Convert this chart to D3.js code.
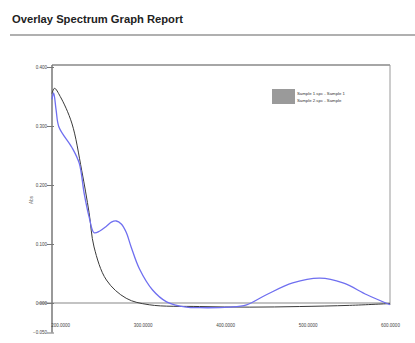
<!DOCTYPE html>
<html><head><meta charset="utf-8">
<script src="https://cdn.jsdelivr.net/npm/d3@7"></script>
<style>body{margin:0;background:#fff}svg{display:block}</style>
</head><body>
<script>
const title = "Overlay Spectrum Graph Report";
const xTicks = [200, 300, 400, 500, 600];
const yTicks = [-0.05, 0, 0.1, 0.2, 0.3, 0.4];
const seriesNames = ["Sample 1.spc - Sample 1", "Sample 2.spc - Sample"];
const blackX = [190, 193, 200, 214, 226, 235, 241, 256, 280, 308, 369, 430, 490, 551, 600];
const blackY = [0.355, 0.364, 0.350, 0.305, 0.225, 0.153, 0.095, 0.039, 0.008, -0.003, -0.006, -0.007, -0.006, -0.004, -0.001];
const blueX = [190, 192, 195, 198.5, 214, 223, 229, 235, 241, 248, 256, 262, 268, 274, 280, 286, 296, 312, 329, 353, 369, 405, 426, 450, 482, 515, 543, 572, 600];
const blueY = [0.345, 0.356, 0.327, 0.298, 0.264, 0.237, 0.186, 0.146, 0.119, 0.122, 0.130, 0.137, 0.139, 0.134, 0.120, 0.095, 0.058, 0.022, 0.002, -0.007, -0.008, -0.007, -0.003, 0.014, 0.034, 0.042, 0.034, 0.014, -0.003];

const W = 415, H = 343;
const svg = d3.select("body").append("svg").attr("width", W).attr("height", H);

svg.append("text").attr("x", 12).attr("y", 23).text(title)
  .attr("font-family", "Liberation Sans, Arial, sans-serif").attr("font-weight", "bold")
  .attr("font-size", 11.2).attr("fill", "#222");
svg.append("line").attr("x1", 10).attr("x2", 415).attr("y1", 35).attr("y2", 35)
  .attr("stroke", "#b0b0b0").attr("stroke-width", 2);

const L = 52, R = 390, T = 65;
const x = d3.scaleLinear().domain([190, 600]).range([L, R]);
const y = d3.scaleLinear().domain([-0.05, 0.4]).range([332.5, 67]);

// frame
svg.append("line").attr("x1", L).attr("x2", R).attr("y1", T).attr("y2", T).attr("stroke", "#888").attr("stroke-width", 1.5);
svg.append("line").attr("x1", R).attr("x2", R).attr("y1", T).attr("y2", y(0) + 2).attr("stroke", "#999").attr("stroke-width", 1);
svg.append("line").attr("x1", 38).attr("x2", R).attr("y1", y(0)).attr("y2", y(0)).attr("stroke", "#888").attr("stroke-width", 1.2);

// y axis
const yAxis = d3.axisLeft(y).tickValues(yTicks).tickFormat(d3.format(".3f")).tickSize(4);
const gy = svg.append("g").attr("transform", `translate(${L},0)`).call(yAxis);
gy.select(".domain").attr("stroke", "#777").attr("stroke-width", 1.5).attr("d", `M0,${T}V${y(-0.05)}`);
gy.selectAll(".tick line").attr("stroke", "#777").attr("x2", -5).attr("x1", 2);
gy.selectAll(".tick text").attr("font-size", 4.5).attr("fill", "#444").attr("x", -5)
  .attr("font-family", "Liberation Sans, Arial, sans-serif");

// x axis labels
const xAxis = d3.axisBottom(x).tickValues(xTicks).tickFormat(d3.format(".4f")).tickSize(0);
const gx = svg.append("g").attr("transform", `translate(0,${y(0)})`).call(xAxis);
gx.select(".domain").remove();
gx.selectAll(".tick text").attr("font-size", 4.5).attr("fill", "#444").attr("y", 21)
  .attr("font-family", "Liberation Sans, Arial, sans-serif");

svg.append("text").attr("transform", `translate(33,200) rotate(-90)`).attr("text-anchor", "middle")
  .attr("font-size", 4.5).attr("fill", "#666").attr("font-family", "Liberation Sans, Arial, sans-serif").text("Abs");

const line = d3.line().x(d => x(d[0])).y(d => y(d[1])).curve(d3.curveCatmullRom);
svg.append("path").attr("d", line(d3.zip(blackX, blackY))).attr("fill", "none")
  .attr("stroke", "#3a3a3a").attr("stroke-width", 1);
svg.append("path").attr("d", line(d3.zip(blueX, blueY))).attr("fill", "none")
  .attr("stroke", "#6f6ff0").attr("stroke-width", 1.3);

// legend
const lg = svg.append("g").attr("transform", "translate(272,89)");
lg.append("rect").attr("width", 23).attr("height", 15).attr("fill", "#9a9a9a");
seriesNames.forEach((n, i) => {
  lg.append("text").attr("x", 25).attr("y", 6 + i * 7).text(n)
    .attr("font-size", 4.3).attr("fill", "#333").attr("font-family", "Liberation Sans, Arial, sans-serif");
});
</script>
</body></html>
